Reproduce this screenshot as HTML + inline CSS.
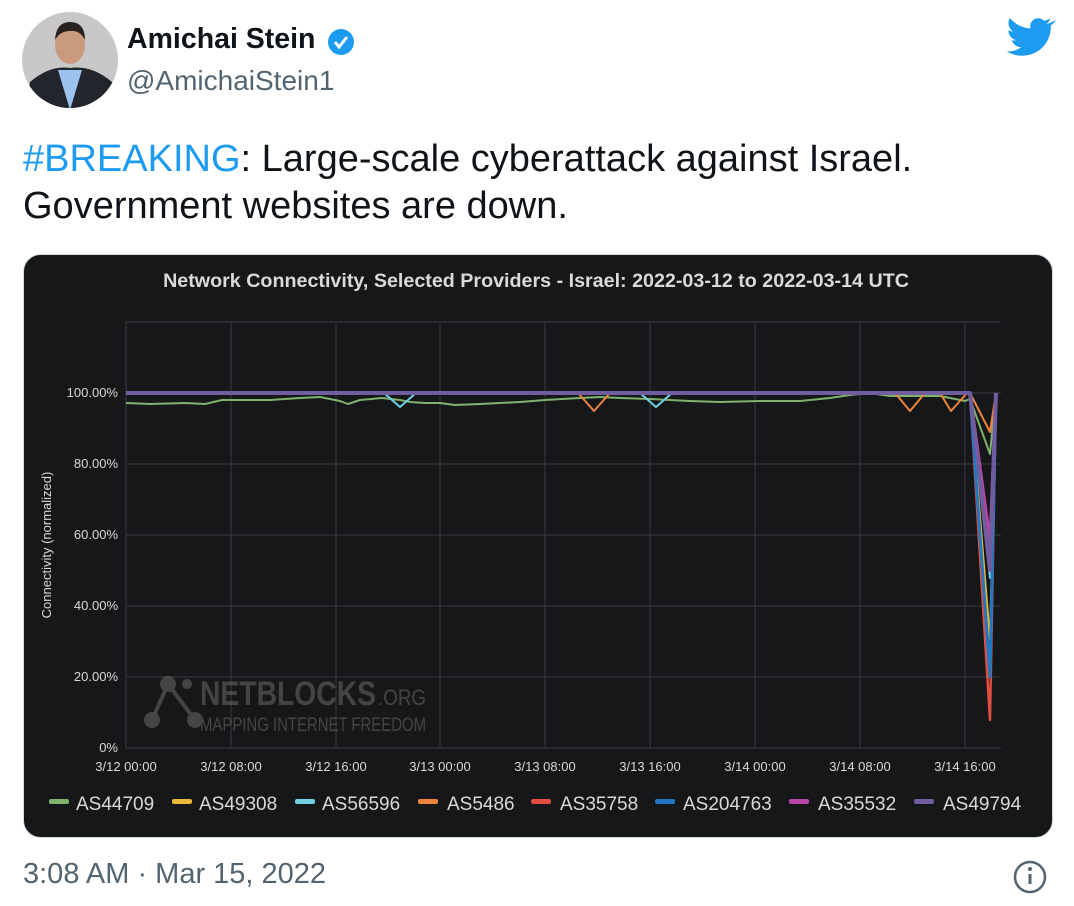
<!DOCTYPE html>
<html><head><meta charset="utf-8"><style>
body{margin:0;width:1074px;height:906px;background:#fff;font-family:"Liberation Sans",sans-serif;position:relative;overflow:hidden}
.a{position:absolute}
</style></head><body>
<svg class="a" style="left:0;top:0" width="1074" height="906">
<defs><clipPath id="av"><circle cx="70" cy="60" r="48"/></clipPath></defs>
<g clip-path="url(#av)"><rect x="20" y="10" width="100" height="100" fill="#c8c8c8"/>
<path d="M25 110 L30 82 Q50 65 70 68 Q92 65 112 82 L118 110Z" fill="#22252b"/>
<path d="M58 70 L70 110 L82 70Z" fill="#9cc2ee"/>
<ellipse cx="70" cy="45" rx="15" ry="19" fill="#c99a7e"/>
<path d="M55 40 Q56 22 70 22 Q85 22 85 40 Q80 30 70 31 Q60 31 55 40Z" fill="#2a2220"/></g>
<g transform="translate(341,42)"><circle r="13" fill="#1d9bf0"/><path d="M-6 0 L-2 5 L6 -5" stroke="#fff" stroke-width="3" fill="none"/></g>
<path d="M1052 22 c-2 1-4 1.5-6 2 2-1.3 3.8-3.3 4.5-5.7-2 1.2-4.2 2-6.5 2.5-4.2-4.5-11.8-2.6-13.5 3.3-.4 1.4-.3 2.9 0 4.3-8.3-.4-15.7-4.4-20.6-10.4-2.7 4.6-1.3 10.5 3 13.4-1.6 0-3.2-.5-4.6-1.2 0 4.8 3.4 8.9 8 9.9-1.5.4-3 .5-4.6.2 1.3 4 5 6.8 9.3 6.9-4 3.2-9.2 4.6-14.5 4 4.6 2.9 10 4.5 15.5 4.5 19 0 29.5-15.9 28.8-30.2 2-1.4 3.7-3.2 5.1-5.2z" fill="#1d9bf0"/>
<circle cx="1030" cy="877" r="15" fill="none" stroke="#536471" stroke-width="2.5"/>
<rect x="1028.5" y="874" width="3" height="10" fill="#536471"/><circle cx="1030" cy="869" r="2" fill="#536471"/>
</svg>
<div class="a" style="left:127px;top:23px;font-size:28.5px;font-weight:bold;color:#0f1419">Amichai Stein</div>
<div class="a" style="left:127px;top:65px;font-size:28px;color:#536471">@AmichaiStein1</div>
<div class="a" style="left:23px;top:136px;font-size:38px;line-height:47px;color:#0f1419"><span style="color:#1d9bf0">#BREAKING</span>: Large-scale cyberattack against Israel.<br>Government websites are down.</div>
<div class="a" style="left:23px;top:858px;font-size:29px;color:#536471">3:08 AM · Mar 15, 2022</div>
<svg class="a" style="left:23px;top:254px" width="1031" height="585" viewBox="23 254 1031 585">
<rect x="23.5" y="254.5" width="1029" height="583" rx="17" fill="#161719" stroke="#cfd9de"/>
<text x="536" y="287" fill="#d8d9da" font-size="19.7" font-weight="bold" text-anchor="middle">Network Connectivity, Selected Providers - Israel: 2022-03-12 to 2022-03-14 UTC</text>
<g stroke="#3a3b3e" stroke-width="1">
<line x1="126" y1="322" x2="1001" y2="322"/><line x1="126" y1="393" x2="1001" y2="393"/><line x1="126" y1="464" x2="1001" y2="464"/><line x1="126" y1="535" x2="1001" y2="535"/><line x1="126" y1="606" x2="1001" y2="606"/><line x1="126" y1="677" x2="1001" y2="677"/><line x1="126" y1="748" x2="1001" y2="748"/>
<line x1="126" y1="322" x2="126" y2="748"/><line x1="231" y1="322" x2="231" y2="748"/><line x1="336" y1="322" x2="336" y2="748"/><line x1="440" y1="322" x2="440" y2="748"/><line x1="545" y1="322" x2="545" y2="748"/><line x1="650" y1="322" x2="650" y2="748"/><line x1="755" y1="322" x2="755" y2="748"/><line x1="860" y1="322" x2="860" y2="748"/><line x1="965" y1="322" x2="965" y2="748"/>
</g>
<g fill="#d8d9da" font-size="13" text-anchor="end">
<text x="118" y="397">100.00%</text><text x="118" y="468">80.00%</text><text x="118" y="539">60.00%</text><text x="118" y="610">40.00%</text><text x="118" y="681">20.00%</text><text x="118" y="752">0%</text></g>
<g fill="#d8d9da" font-size="13" text-anchor="middle">
<text x="126" y="771">3/12 00:00</text><text x="231" y="771">3/12 08:00</text><text x="336" y="771">3/12 16:00</text><text x="440" y="771">3/13 00:00</text><text x="545" y="771">3/13 08:00</text><text x="650" y="771">3/13 16:00</text><text x="755" y="771">3/14 00:00</text><text x="860" y="771">3/14 08:00</text><text x="965" y="771">3/14 16:00</text></g>
<text transform="translate(51,545) rotate(-90)" fill="#d8d9da" font-size="13" text-anchor="middle">Connectivity (normalized)</text>
<g opacity="0.35" fill="#999"><circle cx="168" cy="684" r="8"/><circle cx="152" cy="720" r="8"/><circle cx="195" cy="720" r="8"/><circle cx="187" cy="684" r="5"/><path d="M152 720 L168 684 L195 720" stroke="#999" stroke-width="4" fill="none"/>
<text x="200" y="705" font-size="34" font-weight="bold" textLength="176" lengthAdjust="spacingAndGlyphs">NETBLOCKS</text><text x="378" y="705" font-size="22" textLength="48" lengthAdjust="spacingAndGlyphs">.ORG</text>
<text x="200" y="731" font-size="19" textLength="226" lengthAdjust="spacingAndGlyphs">MAPPING INTERNET FREEDOM</text></g>
<g fill="none" stroke-linejoin="round">
<polyline stroke="#7eb26d" stroke-width="2" points="126,403 150,404 185,403 205,404 222,400 270,400 300,398 320,397 340,401 348,404 360,400 382,398 400,400 410,402 425,403 440,403 455,405 480,404 520,402 545,400 580,398 600,397 620,398 650,399 690,401 720,402 760,401 800,401 830,398 850,395 870,393 890,396 910,396 940,396 965,401 970,399 990,454 996,393"/>
<polyline stroke="#eab839" stroke-width="2" points="126,393 970,393 990,640 996,393"/>
<polyline stroke="#6ed0e0" stroke-width="2" points="126,393 384,393 400,407 416,393 640,393 656,407 672,393 970,393 990,578 996,393"/>
<polyline stroke="#ef843c" stroke-width="2" points="126,393 578,393 594,411 610,393 895,393 910,411 925,393 940,393 951,411 967,393 970,393 990,432 996,393"/>
<polyline stroke="#e24d42" stroke-width="2.5" points="126,393 970,393 990,720 996,393"/>
<polyline stroke="#1f78c1" stroke-width="3" points="126,393 970,393 990,677 996,393"/>
<polyline stroke="#ba43a9" stroke-width="3" points="126,393 970,393 990,540 996,393"/>
<polyline stroke="#705da0" stroke-width="4" points="126,393 970,393 990,570 996,393"/>
</g>
<g font-size="19" fill="#d8d9da">
<rect x="49" y="799" width="20" height="5" rx="2" fill="#7eb26d"/><text x="76" y="810">AS44709</text>
<rect x="172" y="799" width="20" height="5" rx="2" fill="#eab839"/><text x="199" y="810">AS49308</text>
<rect x="295" y="799" width="20" height="5" rx="2" fill="#6ed0e0"/><text x="322" y="810">AS56596</text>
<rect x="418" y="799" width="20" height="5" rx="2" fill="#ef843c"/><text x="447" y="810">AS5486</text>
<rect x="531" y="799" width="20" height="5" rx="2" fill="#e24d42"/><text x="560" y="810">AS35758</text>
<rect x="655" y="799" width="20" height="5" rx="2" fill="#1f78c1"/><text x="683" y="810">AS204763</text>
<rect x="789" y="799" width="20" height="5" rx="2" fill="#ba43a9"/><text x="818" y="810">AS35532</text>
<rect x="914" y="799" width="20" height="5" rx="2" fill="#705da0"/><text x="943" y="810">AS49794</text>
</g>
</svg>
</body></html>
